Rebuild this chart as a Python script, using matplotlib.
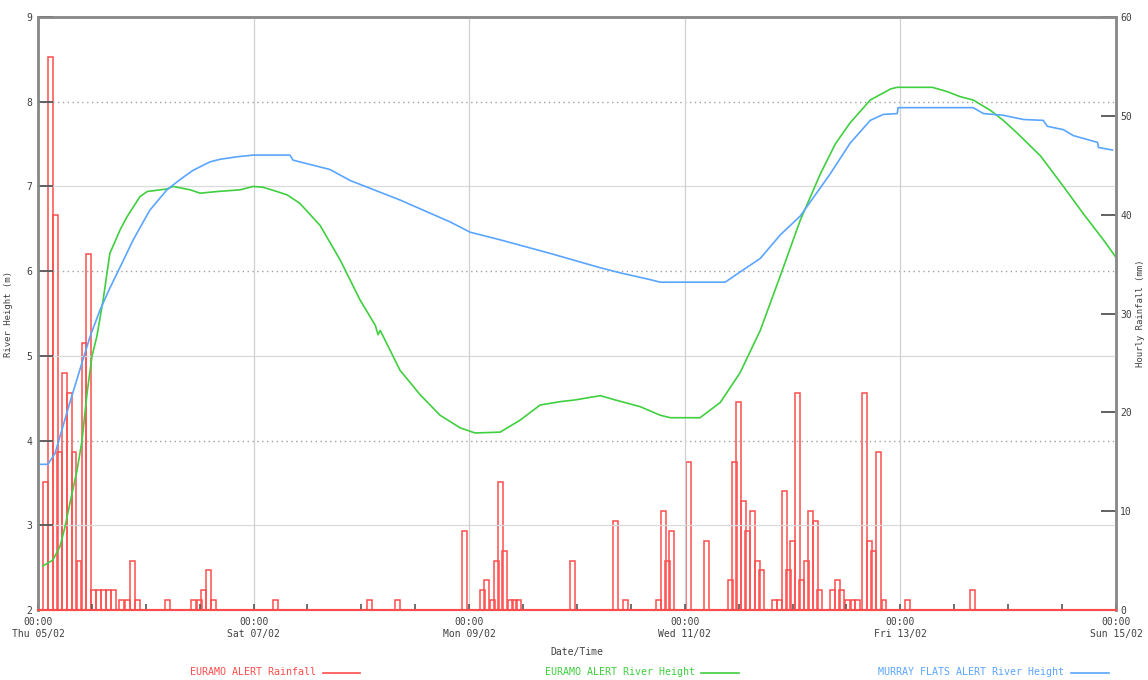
import numpy as np
import matplotlib.pyplot as plt
from matplotlib.lines import Line2D

# hours since Thu 05/02 00:00
rain_hour = [1.1, 2.2, 3.3, 4.3, 5.4, 6.5, 7.5, 8.6, 9.7, 10.7,
             11.8, 12.9, 14.0, 15.1, 16.3, 18.0, 19.4, 20.5, 21.6,
             28.3, 34.1, 35.4, 36.3, 37.4, 38.5, 52.3, 73.3, 79.5,
             94.4, 98.4, 99.3, 100.7, 101.6, 102.4, 103.3, 104.7, 105.6, 106.5,
             118.5, 128.1, 130.3, 137.6, 138.8, 139.6, 140.5, 144.3, 148.3,
             153.7, 154.5, 155.4, 156.5, 157.5, 158.6, 159.7, 160.6,
             163.5, 164.6, 165.7, 166.6, 167.5, 168.6, 169.5, 170.6, 171.5, 172.6, 173.5,
             176.4, 177.5, 178.4, 179.7, 180.9, 182.0, 183.5, 184.6, 185.5, 186.6, 187.8,
             193.1, 207.6]
rain_mm = [13, 56, 40, 16, 24, 22, 16, 5, 27, 36,
           2, 2, 2, 2, 2, 1, 1, 5, 1,
           1, 1, 1, 2, 4, 1, 1, 1, 1,
           8, 2, 3, 1, 5, 13, 6, 1, 1, 1,
           5, 9, 1, 1, 10, 5, 8, 15, 7,
           3, 15, 21, 11, 8, 10, 5, 4,
           1, 1, 12, 4, 7, 22, 3, 5, 10, 9, 2,
           2, 3, 2, 1, 1, 1, 22, 7, 6, 16, 1,
           1, 2]

euramo_hour = [1.1, 3.3, 4.9, 6.0, 7.1, 8.7, 9.8, 10.9, 12.0, 13.1, 14.5, 16.0,
               18.3, 19.8, 22.7, 24.3, 28.7, 30.1, 33.9, 36.1, 39.9, 45.0, 47.9,
               50.1, 53.2, 55.5, 58.3, 62.8, 67.3, 71.7, 75.1, 75.7, 76.2, 80.6,
               85.1, 89.5, 94.0, 97.3, 102.9, 107.3, 111.8, 116.3, 119.6, 122.9,
               125.2, 128.5, 134.1, 138.5, 140.8, 147.4, 151.9, 156.3, 160.8,
               165.3, 169.7, 174.2, 177.5, 180.8, 185.3, 189.8, 191.3, 199.1,
               202.4, 205.3, 208.2, 212.0, 214.9, 218.0, 223.2, 228.3, 232.7,
               237.2, 239.9]
euramo_height = [2.52, 2.59, 2.75, 2.98, 3.26, 3.65, 4.0, 4.55, 4.99, 5.23, 5.66, 6.21,
                 6.49, 6.64, 6.88, 6.94, 6.97, 7.0, 6.96, 6.92, 6.94, 6.96, 7.0,
                 6.99, 6.94, 6.9, 6.8, 6.54, 6.13, 5.66, 5.36, 5.25, 5.3, 4.83,
                 4.54, 4.3, 4.15, 4.09, 4.1, 4.24, 4.42, 4.46, 4.48, 4.51,
                 4.53, 4.48, 4.4, 4.3, 4.27, 4.27, 4.45, 4.8, 5.3,
                 5.95, 6.6, 7.15, 7.5, 7.75, 8.02, 8.15, 8.17, 8.17,
                 8.12, 8.06, 8.02, 7.9, 7.78, 7.63, 7.36, 7.0, 6.68,
                 6.37, 6.17]

murray_hour = [0.0, 2.2, 3.8, 4.9, 7.1, 9.4, 11.6, 13.8, 16.0, 18.3, 21.2, 24.9,
               28.7, 31.6, 34.5, 38.3, 40.5, 44.3, 47.9, 56.1, 56.8, 65.0, 69.5,
               80.6, 91.8, 96.2, 102.9, 114.0, 125.2, 129.6, 136.3, 138.5, 153.0,
               156.3, 160.8, 165.3, 169.7, 176.4, 180.8, 185.3, 188.2, 191.3,
               191.5, 208.2, 210.5, 214.9, 219.4, 223.8, 224.7, 228.3, 230.5,
               235.9, 236.1, 239.2]
murray_height = [3.72, 3.72, 3.85, 4.05, 4.45, 4.85, 5.23, 5.54, 5.8, 6.05, 6.37, 6.72,
                 6.96, 7.08, 7.19, 7.29, 7.32, 7.35, 7.37, 7.37, 7.31, 7.2, 7.07,
                 6.84, 6.58, 6.46, 6.37, 6.21, 6.04, 5.98, 5.9, 5.87, 5.87,
                 5.99, 6.15, 6.43, 6.65, 7.15, 7.51, 7.78, 7.85, 7.86,
                 7.93, 7.93, 7.86, 7.84, 7.79, 7.78, 7.71, 7.67, 7.6,
                 7.52, 7.46, 7.43]

day_ticks = [0, 48, 96, 144, 192, 240]
day_labels = ['Thu 05/02', 'Sat 07/02', 'Mon 09/02', 'Wed 11/02', 'Fri 13/02', 'Sun 15/02']

red = '#ff4d4d'
green = '#3fcf3f'
blue = '#5aa5ff'
txt = '#404040'
mono = 'DejaVu Sans Mono'

fig = plt.figure(figsize=(11.48, 6.8), dpi=100)
ax = fig.add_axes([0.0331, 0.1029, 0.9390, 0.8721])
ax2 = ax.twinx()
ax.set_zorder(2)
ax.patch.set_visible(False)

# rainfall on the right axis
ax2.bar(rain_hour, rain_mm, width=1.05, align='edge', fill=False,
        edgecolor=red, linewidth=1.1)
ax2.set_ylim(0, 60)
ax2.set_yticks(range(0, 61, 10))
ax2.tick_params(axis='y', direction='in', length=11, width=1.3, color='#555',
                labelsize=7, labelcolor=txt, pad=3)
for lab in ax2.get_yticklabels():
    lab.set_family(mono)
ax2.set_ylabel('Hourly Rainfall (mm)', fontsize=6.5, family=mono, color=txt, labelpad=3)

# river heights on the left axis
ax.plot(euramo_hour, euramo_height, color=green, lw=1.2)
ax.plot(murray_hour, murray_height, color=blue, lw=1.2)
ax.set_xlim(0, 240)
ax.set_ylim(2, 9)
ax.set_yticks(range(2, 10))
for v in range(3, 9):
    if v % 2 == 0:
        ax.axhline(v, color='#a0a0a0', lw=1.0, ls=(0, (1, 2.5)), zorder=0)
    else:
        ax.axhline(v, color='#dadada', lw=0.9, zorder=0)
for d in day_ticks[1:-1]:
    ax.axvline(d, color='#d0d0d0', lw=0.9, zorder=0)

ax.set_xticks(day_ticks)
ax.set_xticklabels(['00:00\n' + s for s in day_labels])
ax.set_xticks(np.arange(0, 241, 12), minor=True)
ax.tick_params(axis='x', which='both', direction='in', length=4, width=1.2,
               color='#555', labelsize=7, labelcolor=txt, pad=5)
ax.tick_params(axis='y', direction='in', length=11, width=1.3, color='#555',
               labelsize=7, labelcolor=txt, pad=4)
for lab in ax.get_xticklabels() + ax.get_yticklabels():
    lab.set_family(mono)
ax.set_xlabel('Date/Time', fontsize=7, family=mono, color=txt, labelpad=6)
ax.set_ylabel('River Height (m)', fontsize=6.5, family=mono, color=txt, labelpad=10)

for a in (ax, ax2):
    for side in ('left', 'top', 'right'):
        a.spines[side].set_color('#8a8a8a')
        a.spines[side].set_linewidth(1.8)
    a.spines['bottom'].set_color(red)
    a.spines['bottom'].set_linewidth(1.5)

# legend row
entries = [('EURAMO ALERT Rainfall', red, 0.281),
           ('EURAMO ALERT River Height', green, 0.611),
           ('MURRAY FLATS ALERT River Height', blue, 0.933)]
for name, col, xr in entries:
    fig.text(xr - 0.006, 0.004, name, color=col, fontsize=7.2, family=mono,
             ha='right', va='bottom')
    fig.add_artist(Line2D([xr, xr + 0.033], [0.0105, 0.0105], color=col, lw=1.2,
                          transform=fig.transFigure))

fig.savefig('out.png', dpi=100)
